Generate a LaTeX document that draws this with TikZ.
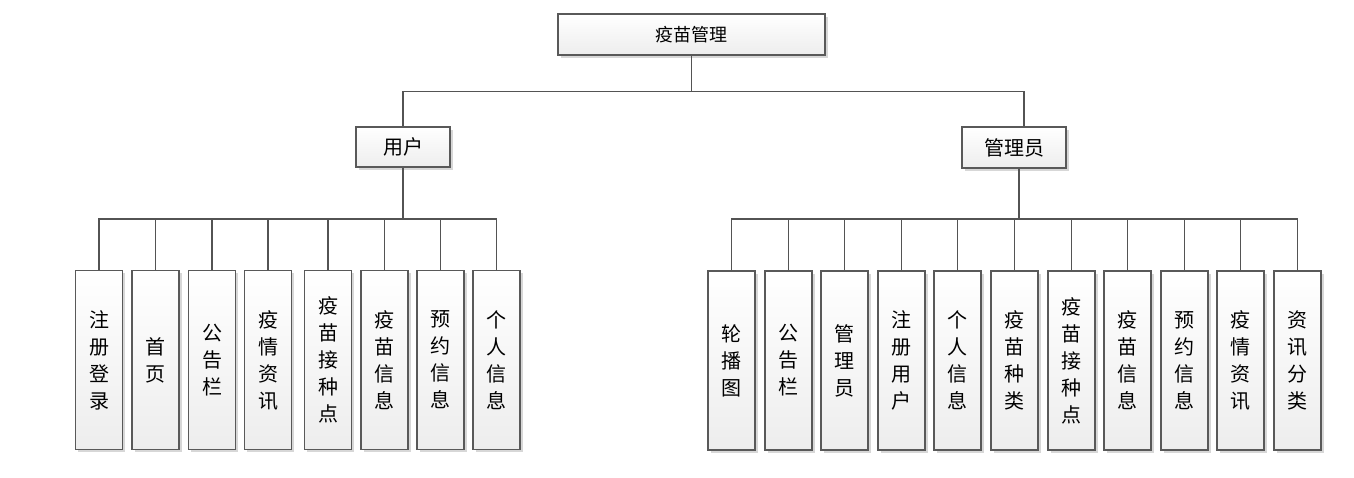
\documentclass[tikz,border=0pt]{standalone}
\usepackage{fontspec}
\newfontfamily\cjk{Noto Sans CJK SC}
\usetikzlibrary{shadows, positioning}

\tikzset{
    box/.style={draw=gray!70!black, line width=1.3pt, top color=white, bottom color=gray!14,
        drop shadow={shadow xshift=2.5pt, shadow yshift=-2.5pt, fill=gray!45, opacity=0.7},
        inner sep=0pt, align=center, text=black},
    leaf/.style={box, minimum width=47pt, minimum height=179pt, font=\cjk\fontsize{20}{27}\selectfont},
    link/.style={draw=gray!65!black, line width=1.5pt}
}

\begin{document}
\begin{tikzpicture}[x=1pt, y=-1pt]

\useasboundingbox (0,0) rectangle (1354,477);

% Root
\node[box, minimum width=267pt, minimum height=41pt, font=\cjk\fontsize{18}{20}\selectfont] (root) at (691.5,34.5) {疫苗管理};

% Second level
\node[box, minimum width=94pt, minimum height=40pt, font=\cjk\fontsize{20}{22}\selectfont] (user) at (403,147) {用户};
\node[box, minimum width=104pt, minimum height=41pt, font=\cjk\fontsize{20}{22}\selectfont] (admin) at (1014,147.5) {管理员};

% Links from root
\coordinate (rbus) at (691.5,91.5);
\draw[link] (root.south) -- (rbus);
\draw[link] (user.north) |- (rbus);
\draw[link] ([xshift=10pt]admin.north) |- (rbus);

% Functions of the user
\foreach \x/\t [count=\i] in {99/注\\册\\登\\录, 155.5/首\\页, 212/公\\告\\栏, 268/疫\\情\\资\\讯,
    328/疫\\苗\\接\\种\\点, 384.5/疫\\苗\\信\\息, 440.5/预\\约\\信\\息, 496.5/个\\人\\信\\息}
{
    \node[leaf] (u\i) at (\x,360) {\t};
}

% Functions of the admin
\foreach \x/\t [count=\i] in {731.5/轮\\播\\图, 788.5/公\\告\\栏, 844.5/管\\理\\员, 901.5/注\\册\\用\\户,
    957.5/个\\人\\信\\息, 1014.5/疫\\苗\\种\\类, 1071.5/疫\\苗\\接\\种\\点, 1127.5/疫\\苗\\信\\息,
    1184.5/预\\约\\信\\息, 1240.5/疫\\情\\资\\讯, 1297.5/资\\讯\\分\\类}
{
    \node[leaf] (a\i) at (\x,360.5) {\t};
}

% Links to the user functions
\coordinate (ubus) at (403,219);
\draw[link] (user.south) -- (ubus);
\foreach \i in {1,...,8}
{
    \draw[link] (u\i.north) |- (ubus);
}

% Links to the admin functions
\coordinate (abus) at (1019,219);
\draw[link] ([xshift=5pt]admin.south) -- (abus);
\foreach \i in {1,...,11}
{
    \draw[link] (a\i.north) |- (abus);
}

\end{tikzpicture}
\end{document}
